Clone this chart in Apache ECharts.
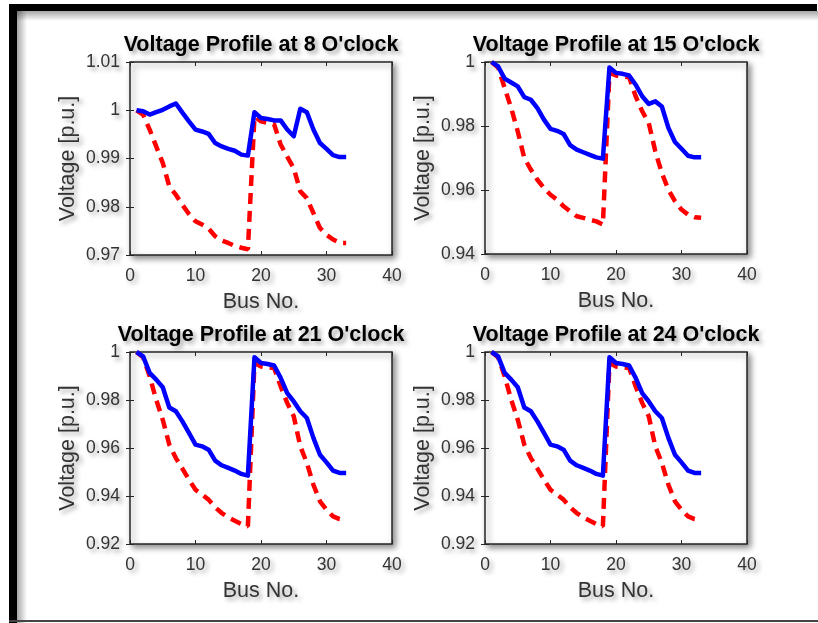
<!DOCTYPE html>
<html>
<head>
<meta charset="utf-8">
<script src="https://cdn.jsdelivr.net/npm/echarts@6/dist/echarts.min.js"></script>
<style>
html,body{margin:0;padding:0;background:#fff;}
#c{width:818px;height:623px;}
</style>
</head>
<body>
<div id="c"></div>
<script>
// ---- data ----
const bus = [1,2,3,4,5,6,7,8,9,10,11,12,13,14,15,16,17,18,19,20,21,22,23,24,25,26,27,28,29,30,31,32,33];

const titles = ["Voltage Profile at 8 O'clock", "Voltage Profile at 15 O'clock",
                "Voltage Profile at 21 O'clock", "Voltage Profile at 24 O'clock"];

const blue8 = [1.0000,0.9998,0.9991,0.9996,1.0001,1.0008,1.0014,0.9995,0.9977,0.9960,0.9956,0.9951,0.9932,0.9925,0.9920,0.9916,0.9908,0.9906,
               0.9996,0.9984,0.9982,0.9979,0.9979,0.9960,0.9946,1.0003,0.9996,0.9960,0.9932,0.9920,0.9907,0.9903,0.9903];
const red8  = [1.0000,0.9991,0.9960,0.9925,0.9891,0.9842,0.9825,0.9804,0.9785,0.9770,0.9763,0.9755,0.9739,0.9730,0.9725,0.9719,0.9715,0.9712,
               0.9987,0.9977,0.9974,0.9971,0.9929,0.9904,0.9880,0.9832,0.9818,0.9787,0.9756,0.9742,0.9732,0.9725,0.9725];

const blue15 = [1.0000,0.9986,0.9948,0.9936,0.9924,0.9890,0.9882,0.9856,0.9820,0.9791,0.9785,0.9775,0.9740,0.9726,0.9718,0.9710,0.9702,0.9698,
                0.9983,0.9966,0.9963,0.9958,0.9929,0.9893,0.9869,0.9877,0.9861,0.9794,0.9750,0.9729,0.9707,0.9702,0.9702];
const red15  = [1.0000,0.9983,0.9919,0.9856,0.9783,0.9700,0.9664,0.9632,0.9606,0.9585,0.9570,0.9549,0.9533,0.9518,0.9513,0.9507,0.9502,0.9492,
                0.9966,0.9958,0.9955,0.9952,0.9893,0.9846,0.9809,0.9721,0.9653,0.9601,0.9565,0.9539,0.9523,0.9515,0.9513];

const blue21 = [1.0000,0.9982,0.9913,0.9885,0.9853,0.9769,0.9753,0.9711,0.9663,0.9614,0.9607,0.9593,0.9547,0.9528,0.9517,0.9506,0.9492,0.9485,
                0.9978,0.9954,0.9950,0.9944,0.9892,0.9829,0.9794,0.9753,0.9725,0.9642,0.9572,0.9540,0.9506,0.9496,0.9496];
const red21  = [1.0000,0.9978,0.9899,0.9801,0.9718,0.9614,0.9558,0.9514,0.9468,0.9426,0.9406,0.9385,0.9353,0.9329,0.9311,0.9297,0.9283,0.9274,
                0.9954,0.9940,0.9936,0.9933,0.9857,0.9788,0.9732,0.9607,0.9538,0.9447,0.9378,0.9343,0.9315,0.9304,0.9301];

const blue24 = [1.0000,0.9982,0.9913,0.9885,0.9853,0.9769,0.9753,0.9711,0.9663,0.9614,0.9607,0.9593,0.9547,0.9528,0.9517,0.9506,0.9492,0.9485,
                0.9978,0.9954,0.9950,0.9944,0.9892,0.9829,0.9794,0.9753,0.9725,0.9642,0.9572,0.9540,0.9506,0.9496,0.9496];
const red24  = [1.0000,0.9978,0.9899,0.9801,0.9718,0.9614,0.9558,0.9514,0.9468,0.9426,0.9406,0.9385,0.9353,0.9329,0.9311,0.9297,0.9283,0.9274,
                0.9954,0.9940,0.9936,0.9933,0.9857,0.9788,0.9732,0.9607,0.9538,0.9447,0.9378,0.9343,0.9315,0.9304,0.9301];

const xTicks = {min: 0, max: 40, interval: 10};
const yRanges = [{min: 0.97, max: 1.01, interval: 0.01},
                 {min: 0.94, max: 1.00, interval: 0.02},
                 {min: 0.92, max: 1.00, interval: 0.02},
                 {min: 0.92, max: 1.00, interval: 0.02}];
const blues = [blue8, blue15, blue21, blue24];
const reds = [red8, red15, red21, red24];

// ---- layout ----
const gridPos = [{left:130, top:62, width:262, height:193},
                 {left:485, top:62, width:262, height:192},
                 {left:130, top:352, width:262, height:192},
                 {left:485, top:352, width:262, height:192}];
const FONT = '"Liberation Sans", Arial, sans-serif';
const shadowTxt = {textShadowColor:'rgba(0,0,0,0.35)', textShadowBlur:4, textShadowOffsetX:3, textShadowOffsetY:3};
const axisCol = '#262626';

const option = {
  animation: false,
  backgroundColor: '#fff',
  title: [], grid: [], xAxis: [], yAxis: [], series: [],
  graphic: [
    {type:'rect', shape:{x:17, y:11, width:10, height:612}, style:{fill:{type:'linear',x:0,y:0,x2:1,y2:0,colorStops:[{offset:0,color:'rgba(0,0,0,0.35)'},{offset:1,color:'rgba(0,0,0,0)'}]}}},
    {type:'rect', shape:{x:17, y:11, width:801, height:10}, style:{fill:{type:'linear',x:0,y:0,x2:0,y2:1,colorStops:[{offset:0,color:'rgba(0,0,0,0.35)'},{offset:1,color:'rgba(0,0,0,0)'}]}}},
    {type:'rect', shape:{x:9, y:4, width:8, height:619}, style:{fill:'#000'}},
    {type:'rect', shape:{x:9, y:4, width:808, height:7}, style:{fill:'#000'}},
    {type:'rect', shape:{x:9, y:620, width:809, height:2}, style:{fill:'#444'}}
  ]
};

function fmt(v){ return String(parseFloat(v.toFixed(4))); }

for (let i = 0; i < 4; i++) {
  const g = gridPos[i];
  option.title.push({
    text: titles[i], left: g.left + g.width/2, top: g.top - 28, textAlign: 'center', padding: 0,
    textStyle: Object.assign({fontFamily: FONT, fontWeight:'bold', fontSize: 21.5, color:'#000'}, shadowTxt)
  });
  option.grid.push({
    left: g.left, top: g.top, width: g.width, height: g.height, show: true,
    backgroundColor: '#fff', borderColor: axisCol, borderWidth: 1.5,
    shadowColor: 'rgba(0,0,0,0.45)', shadowBlur: 6, shadowOffsetX: 3, shadowOffsetY: 3
  });
  const xb = Object.assign({
    type:'value', gridIndex:i, splitLine:{show:false}, axisLine:{show:false},
    axisTick:{show:true, inside:true, length:4, lineStyle:{color:axisCol, width:1}}
  }, xTicks);
  option.xAxis.push(Object.assign({}, xb, {
    position:'bottom', name:'Bus No.', nameLocation:'middle', nameGap:36,
    nameTextStyle: Object.assign({fontFamily:FONT, fontSize:21.5, color:'#333'}, shadowTxt),
    axisLabel: Object.assign({fontFamily:FONT, fontSize:17.5, color:'#333', margin:12}, shadowTxt)
  }));
  option.xAxis.push(Object.assign({}, xb, {position:'top', axisLabel:{show:false}}));
  const yr = yRanges[i];
  const yb = {
    type:'value', gridIndex:i, min:yr.min, max:yr.max, interval:yr.interval,
    splitLine:{show:false}, axisLine:{show:false},
    axisTick:{show:true, inside:true, length:4, lineStyle:{color:axisCol, width:1}}
  };
  option.yAxis.push(Object.assign({}, yb, {
    position:'left', name:'Voltage [p.u.]', nameLocation:'middle', nameGap:51, nameRotate:90,
    nameTextStyle: Object.assign({fontFamily:FONT, fontSize:21.5, color:'#333'}, shadowTxt),
    axisLabel: Object.assign({fontFamily:FONT, fontSize:17.5, color:'#333', margin:10, formatter: fmt}, shadowTxt)
  }));
  option.yAxis.push(Object.assign({}, yb, {position:'right', axisLabel:{show:false}}));

  option.series.push({
    type:'line', xAxisIndex:2*i, yAxisIndex:2*i, showSymbol:false, symbol:'none', z:2,
    data: bus.map((b, k) => [b, reds[i][k]]),
    lineStyle:{color:'#ff0000', width:4.5, type:[11,7], cap:'butt'}
  });
  option.series.push({
    type:'line', xAxisIndex:2*i, yAxisIndex:2*i, showSymbol:false, symbol:'none', z:3,
    data: bus.map((b, k) => [b, blues[i][k]]),
    lineStyle:{color:'#0000ff', width:4.5, join:'round'}
  });
}

const chart = echarts.init(document.getElementById('c'), null, {renderer:'canvas'});
chart.setOption(option);
</script>
</body>
</html>
